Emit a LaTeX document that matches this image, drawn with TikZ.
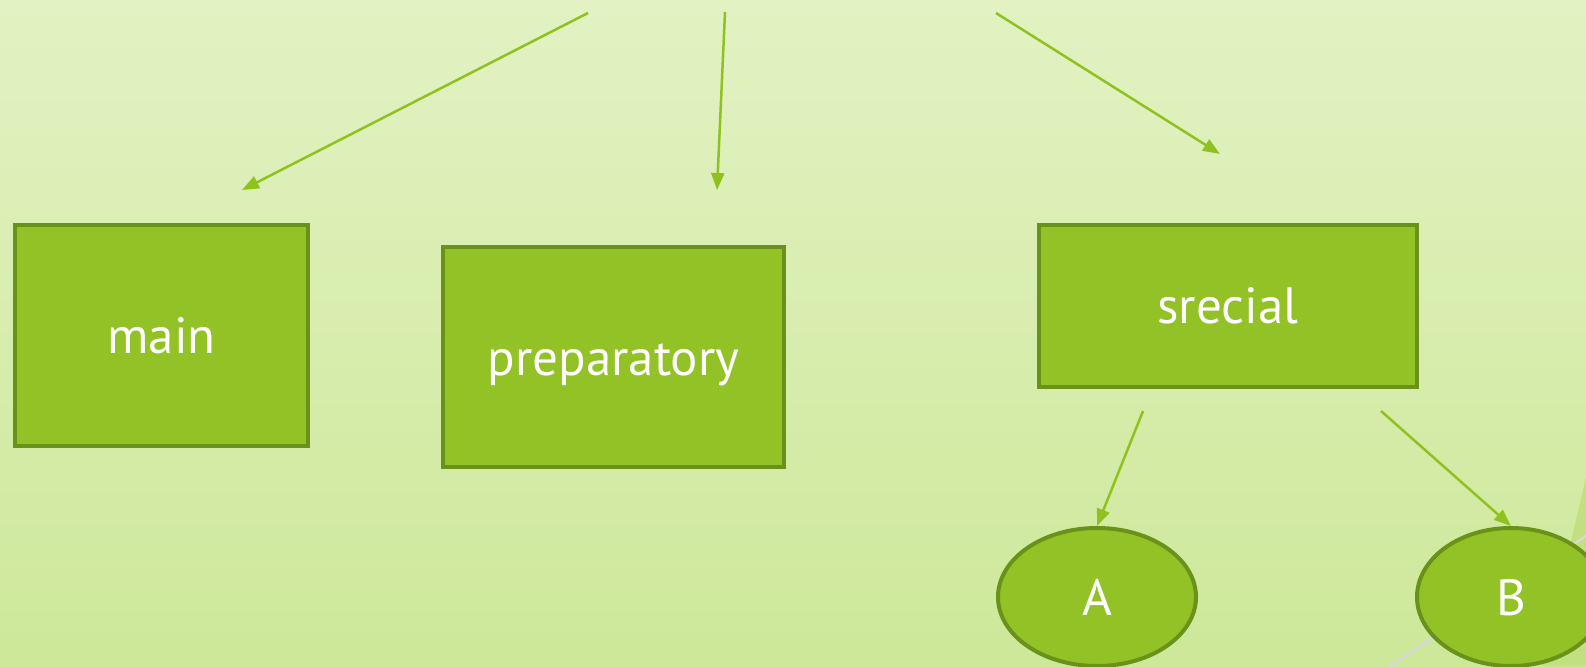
\documentclass[tikz,border=0pt]{standalone}
\usepackage{fontspec}
\setmainfont{PT Sans}
\usetikzlibrary{arrows.meta,shapes.geometric}
\definecolor{bgtop}{HTML}{E2F2C3}
\definecolor{bgbot}{HTML}{CDE899}
\definecolor{boxfill}{HTML}{92C226}
\definecolor{boxline}{HTML}{6A921B}
\definecolor{arrowcol}{HTML}{8FC21F}
\definecolor{facet}{HTML}{C2E07F}
\definecolor{greyline}{HTML}{D8D8D8}
\tikzset{
  lbl/.style={text=white, font=\fontsize{51}{60}\selectfont, inner sep=0pt, text height=36pt, text depth=0pt},
  box/.style={rectangle, draw=boxline, fill=boxfill, line width=4pt, lbl},
  oval/.style={ellipse, draw=boxline, fill=boxfill, line width=4pt, lbl},
  conn/.style={draw=arrowcol, line width=2.5pt, -{Triangle[length=17pt,width=13pt]}}
}
\begin{document}
\begin{tikzpicture}[x=1pt,y=-1pt]
  \shade[top color=bgtop, bottom color=bgbot] (0,0) rectangle (1586,666);
  \useasboundingbox (0,0) rectangle (1586,666);
  % decorative facet and grey line behind B
  \fill[facet] (1586,477) -- (1542,666) -- (1586,666) -- cycle;
  \coordinate (g1) at (1360,686);
  \coordinate (g2) at (1610,520);
  \draw[greyline, line width=2.5pt] (g1) -- (g2);
  % nodes
  \node[box, minimum width=293pt, minimum height=221pt] (main) at (161.5,335.5) {main};
  \node[box, minimum width=341pt, minimum height=220pt] (prep) at (613.5,357) {preparatory};
  \node[box, minimum width=378pt, minimum height=162pt] (spec) at (1228,305.5) {srecial};
  \node[oval, minimum width=198pt, minimum height=138pt] (A) at (1097,597) {A};
  \node[oval, minimum width=188pt, minimum height=138pt] (B) at (1511,597) {B};
  % connector ends
  \coordinate (s1) at (588,13);
  \coordinate (e1) at (242,190);
  \coordinate (s2) at (725,12);
  \coordinate (e2) at (717,190);
  \coordinate (s3) at (996,13);
  \coordinate (e3) at (1220,154);
  \coordinate (s4) at (1143,411);
  \coordinate (s5) at (1381,411);
  \draw[conn] (s1) -- (e1);
  \draw[conn] (s2) -- (e2);
  \draw[conn] (s3) -- (e3);
  \draw[conn] (s4) -- (A.north);
  \draw[conn] (s5) -- (B.north);
\end{tikzpicture}
\end{document}
